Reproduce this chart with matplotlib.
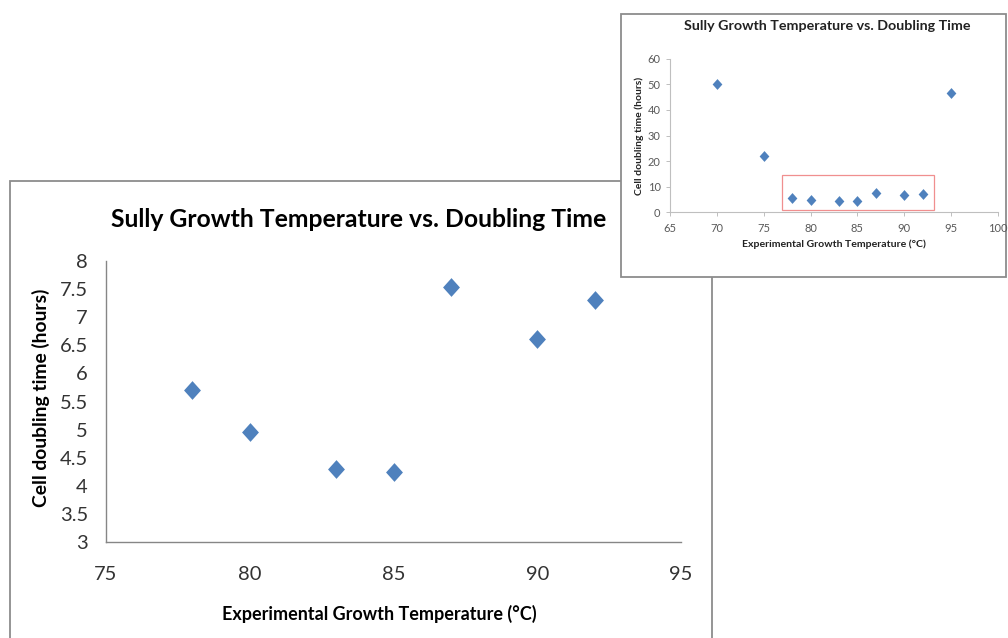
import matplotlib
matplotlib.use("Agg")
import matplotlib.pyplot as plt
from matplotlib.patches import Rectangle
from matplotlib.path import Path
from matplotlib.ticker import FuncFormatter

# ---- data ----
main_temp = [78, 80, 83, 85, 87, 90, 92]
main_time = [5.70, 4.95, 4.30, 4.25, 7.54, 6.61, 7.31]
inset_temp = [70, 75, 78, 80, 83, 85, 87, 90, 92, 95]
inset_time = [50.0, 22.0, 5.70, 4.95, 4.30, 4.25, 7.54, 6.61, 7.31, 46.6]
main_xticks = [75, 80, 85, 90, 95]
main_yticks = [3, 3.5, 4, 4.5, 5, 5.5, 6, 6.5, 7, 7.5, 8]
inset_xticks = [65, 70, 75, 80, 85, 90, 95, 100]
inset_yticks = [0, 10, 20, 30, 40, 50, 60]
highlight_box = (77.0, 0.8, 93.2, 14.7)  # x0, y0, x1, y1 (data units of inset)

title = "Sully Growth Temperature vs. Doubling Time"
xlabel = "Experimental Growth Temperature (°C)"
ylabel = "Cell doubling time (hours)"

W, H = 1008, 638
plt.rcParams['font.family'] = ['Lato', 'DejaVu Sans']
fig = plt.figure(figsize=(W / 100, H / 100), dpi=100)
fig.patch.set_facecolor('white')

def fx(px):
    return px / W

def fy(py):
    return 1 - py / H

BLUE = '#4F81BD'
GRID = '#868686'
diamond = Path([(0, 1), (0.9, 0), (0, -1), (-0.9, 0), (0, 1)],
               [Path.MOVETO, Path.LINETO, Path.LINETO, Path.LINETO, Path.CLOSEPOLY])

# ---- main chart frame ----
frame = Rectangle((fx(10), fy(700)), fx(712) - fx(10), fy(181) - fy(700),
                  transform=fig.transFigure, facecolor='white', edgecolor='#8c8c8c',
                  linewidth=1.3, zorder=-2, clip_on=False)
fig.patches.append(frame)

ax = fig.add_axes([fx(106), fy(542), fx(681) - fx(106), fy(261) - fy(542)])
ax.set_facecolor('none')
ax.set_zorder(0)
ax.scatter(main_temp, main_time, marker=diamond, s=13.5 ** 2, color=BLUE,
           linewidths=0, zorder=3, clip_on=False)
ax.set_xlim(75, 95)
ax.set_ylim(3, 8)
ax.set_xticks(main_xticks)
ax.set_yticks(main_yticks)
ax.yaxis.set_major_formatter(FuncFormatter(lambda v, p: f"{v:g}"))
for s in ['top', 'right']:
    ax.spines[s].set_visible(False)
for s in ['left', 'bottom']:
    ax.spines[s].set_color(GRID)
    ax.spines[s].set_linewidth(1.0)
ax.tick_params(axis='both', length=0, labelsize=14.5, labelcolor='#333333')
ax.tick_params(axis='x', pad=17)
ax.tick_params(axis='y', pad=13)

t_title = fig.text(fx(359), fy(219), title, ha='center', va='center',
                   fontsize=18, fontweight='bold', color='black')
t_xl = fig.text(fx(379), fy(614), xlabel, ha='center', va='center',
                fontsize=13, fontweight='bold', color='black')
t_yl = fig.text(fx(41), fy(398), ylabel, ha='center', va='center', rotation=90,
                fontsize=13, fontweight='bold', color='black')

# ---- inset chart ----
iframe = Rectangle((fx(621), fy(277)), fx(1006) - fx(621), fy(14) - fy(277),
                   transform=fig.transFigure, facecolor='white', edgecolor='#8c8c8c',
                   linewidth=1.3, zorder=0.5, clip_on=False)
fig.patches.append(iframe)

ax2 = fig.add_axes([fx(670.3), fy(212.3), fx(997.5) - fx(670.3), fy(58.7) - fy(212.3)])
ax2.set_zorder(1)
ax2.set_facecolor('none')
ax2.scatter(inset_temp, inset_time, marker=diamond, s=7.8 ** 2, color=BLUE,
            linewidths=0, zorder=3, clip_on=False)
ax2.set_xlim(65, 100)
ax2.set_ylim(0, 60)
ax2.set_xticks(inset_xticks)
ax2.set_yticks(inset_yticks)
for s in ['top', 'right']:
    ax2.spines[s].set_visible(False)
for s in ['left', 'bottom']:
    ax2.spines[s].set_color('#bfbfbf')
    ax2.spines[s].set_linewidth(0.8)
ax2.tick_params(axis='both', length=3, width=0.7, color='#bfbfbf', direction='out',
                labelsize=8, labelcolor='#595959')
ax2.tick_params(axis='x', pad=5)
ax2.tick_params(axis='y', pad=4)
x0, y0, x1, y1 = highlight_box
ax2.add_patch(Rectangle((x0, y0), x1 - x0, y1 - y0, facecolor='none',
                        edgecolor='#f08f8f', linewidth=0.9, zorder=2, clip_on=False))

t_ititle = fig.text(fx(827), fy(26), title, ha='center', va='center',
                    fontsize=9.5, fontweight='bold', color='#222222', zorder=2)
t_ixl = fig.text(fx(834), fy(244), xlabel, ha='center', va='center',
                 fontsize=6.5, fontweight='bold', color='#222222', zorder=2)
t_iyl = fig.text(fx(639), fy(136), ylabel, ha='center', va='center', rotation=90,
                 fontsize=6.5, fontweight='bold', color='#222222', zorder=2)

# fit text sizes to measured extents
renderer = fig.canvas.get_renderer()
for t, target in [(t_title, 498), (t_xl, 313), (t_yl, 218),
                  (t_ititle, 287), (t_ixl, 182), (t_iyl, 118)]:
    bb = t.get_window_extent(renderer)
    cur = max(bb.width, bb.height)
    t.set_fontsize(t.get_fontsize() * target / cur)

fig.savefig("out.png", dpi=100, facecolor='white')
